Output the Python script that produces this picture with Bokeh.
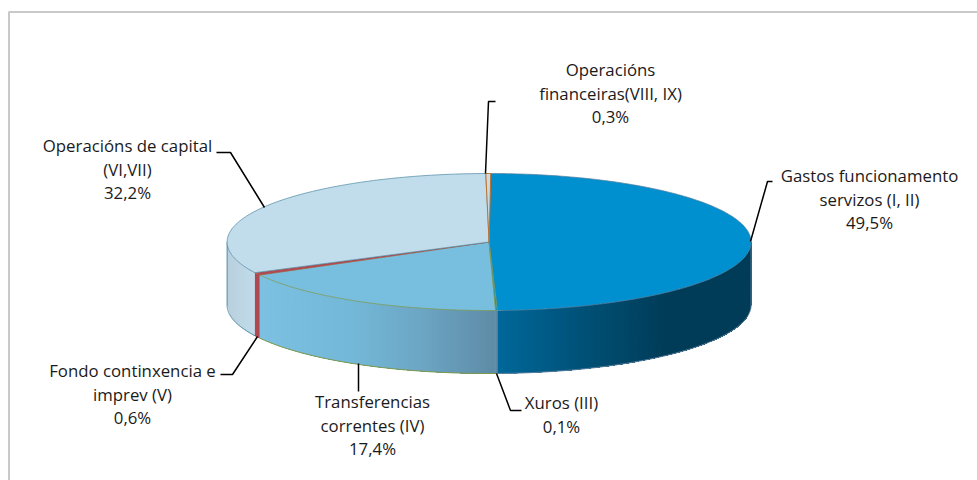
import numpy as np
from bokeh.plotting import figure
from bokeh.models import Range1d
from bokeh.core.properties import value
from bokeh.embed import file_html
from bokeh.resources import INLINE

# data
categories = ["Gastos funcionamento servizos (I, II)", "Xuros (III)", "Transferencias correntes (IV)",
              "Fondo continxencia e imprev (V)", "Operacións de capital (VI,VII)", "Operacións financeiras(VIII, IX)"]
shares = [49.5, 0.1, 17.4, 0.6, 32.2, 0.3]
share_labels = ["49,5%", "0,1%", "17,4%", "0,6%", "32,2%", "0,3%"]
label_lines = [["Gastos funcionamento", "servizos (I, II)"], ["Xuros (III)"],
               ["Transferencias", "correntes (IV)"], ["Fondo continxencia e", "imprev (V)"],
               ["Operacións de capital", "(VI,VII)"], ["Operacións", "financeiras(VIII, IX)"]]

# styles
top_colors = ["#0090cf", "#0090cf", "#78bede", "#b34a4f", "#c1dcea", "#c8dbe2"]
edge_colors = ["#5a7f9c", "#7f9a48", "#7f9a48", "#a8454a", "#4f8aa5", "#c0702a"]
edge_widths = [0.7, 0.7, 0.7, 0.5, 0.7, 1.0]
wall_stops = [
    [(497, "#00689a"), (600, "#004c70"), (665, "#003c58"), (751, "#003c58")],
    [(496, "#5e8ba5"), (498, "#5e8ba5")],
    [(259, "#7cc0e2"), (350, "#74b8d8"), (420, "#6ca6c4"), (497, "#5e8ba5")],
    [(255, "#b04a50"), (260, "#b04a50")],
    [(227, "#b9d0de"), (256, "#c2dceb")],
    [(0, "#c8722c"), (1, "#c8722c")],
]
# layout (pixels on the page)
CX, CY, RX, RY, DEPTH = 488.6, 241.5, 262.0, 68.5, 63.0
label_anchor = [(869, 175), (561, 402), (372, 401), (132, 370), (127, 145), (610, 69)]
LINE_H = 23.7
leaders = [
    [(750, 241), (767, 181), (772, 181)],
    [(496, 373), (510, 410), (521, 410)],
    [(358, 363), (358, 391)],
    [(257, 336), (232, 374), (220, 374)],
    [(264, 207), (230, 152), (216, 152)],
    [(485, 173), (488, 101), (495, 101)],
]

p = figure(width=977, height=480, output_backend="svg", toolbar_location=None,
           x_range=Range1d(0, 977), y_range=Range1d(480, 0), min_border=0)
p.axis.visible = False
p.grid.visible = False
p.outline_line_color = None

# frame
p.line([8.5, 8.5, 977], [480, 11.5, 11.5], line_color="#c9c9c9", line_width=2)

frac = np.cumsum([0] + shares) / 100 * 2 * np.pi


def ex(t):
    return CX + RX * np.sin(t)


def ey(t):
    return CY - RY * np.cos(t)


def hex_rgb(c):
    return np.array([int(c[i:i + 2], 16) for i in (1, 3, 5)], float)


def grad(stops, x):
    xs = [s[0] for s in stops]
    cols = np.array([hex_rgb(s[1]) for s in stops])
    return "#%02x%02x%02x" % tuple(int(round(np.interp(x, xs, cols[:, k]))) for k in range(3))


# side walls: bands painted left to right, each reaching to the wall's far end,
# so that no seam shows between neighbours
lo, hi = np.pi / 2, 3 * np.pi / 2
for i in [4, 3, 2, 1, 0]:
    a, b = max(frac[i], lo), min(frac[i + 1], hi)
    if b <= a:
        continue
    xa, xb = sorted([ex(a), ex(b)])
    edges = np.linspace(xa, xb, max(2, int((xb - xa) / 3)) + 1)
    ts = np.pi - np.arcsin(np.clip((edges - CX) / RX, -1, 1))
    xs_all, ys_all, cols = [], [], []
    for j in range(len(edges) - 1):
        t_run = ts[j:]
        xs_all.append(np.concatenate([ex(t_run), ex(t_run)[::-1]]))
        ys_all.append(np.concatenate([ey(t_run), ey(t_run)[::-1] + DEPTH]))
        cols.append(grad(wall_stops[i], (edges[j] + edges[j + 1]) / 2))
    p.patches(xs_all, ys_all, fill_color=cols, line_color=None)
    ta = np.linspace(a, b, 60)
    p.line(ex(ta), ey(ta) + DEPTH, line_color=edge_colors[i], line_width=1)
    for t in (a, b):
        if i in (0, 2):
            p.line([ex(t), ex(t)], [ey(t), ey(t) + DEPTH], line_color=edge_colors[i], line_width=1)
# outer vertical edges of the wall
p.line([ex(hi), ex(hi)], [ey(hi), ey(hi) + DEPTH], line_color=edge_colors[4], line_width=1)

# top faces
for i in [2, 0, 1, 3, 4, 5]:
    ta = np.linspace(frac[i], frac[i + 1], max(3, int((frac[i + 1] - frac[i]) / np.radians(1))))
    xs = np.concatenate([[CX], ex(ta)])
    ys = np.concatenate([[CY], ey(ta)])
    p.patch(xs, ys, fill_color=top_colors[i], line_color=edge_colors[i], line_width=edge_widths[i])

# leaders
for pts in leaders:
    p.line([q[0] for q in pts], [q[1] for q in pts], line_color="#000000", line_width=1.5)

# labels
tx, ty, tt = [], [], []
for lines, pct, (ax, ay) in zip(label_lines, share_labels, label_anchor):
    for j, s in enumerate(lines + [pct]):
        tx.append(ax)
        ty.append(ay + j * LINE_H)
        tt.append(s)
p.text(tx, ty, text=tt, text_font=value("Open Sans"), text_font_size="16.8px", text_color="#1a1a1a",
       text_align="center", text_baseline="middle")

open("out.html", "w").write(file_html(p, INLINE))
